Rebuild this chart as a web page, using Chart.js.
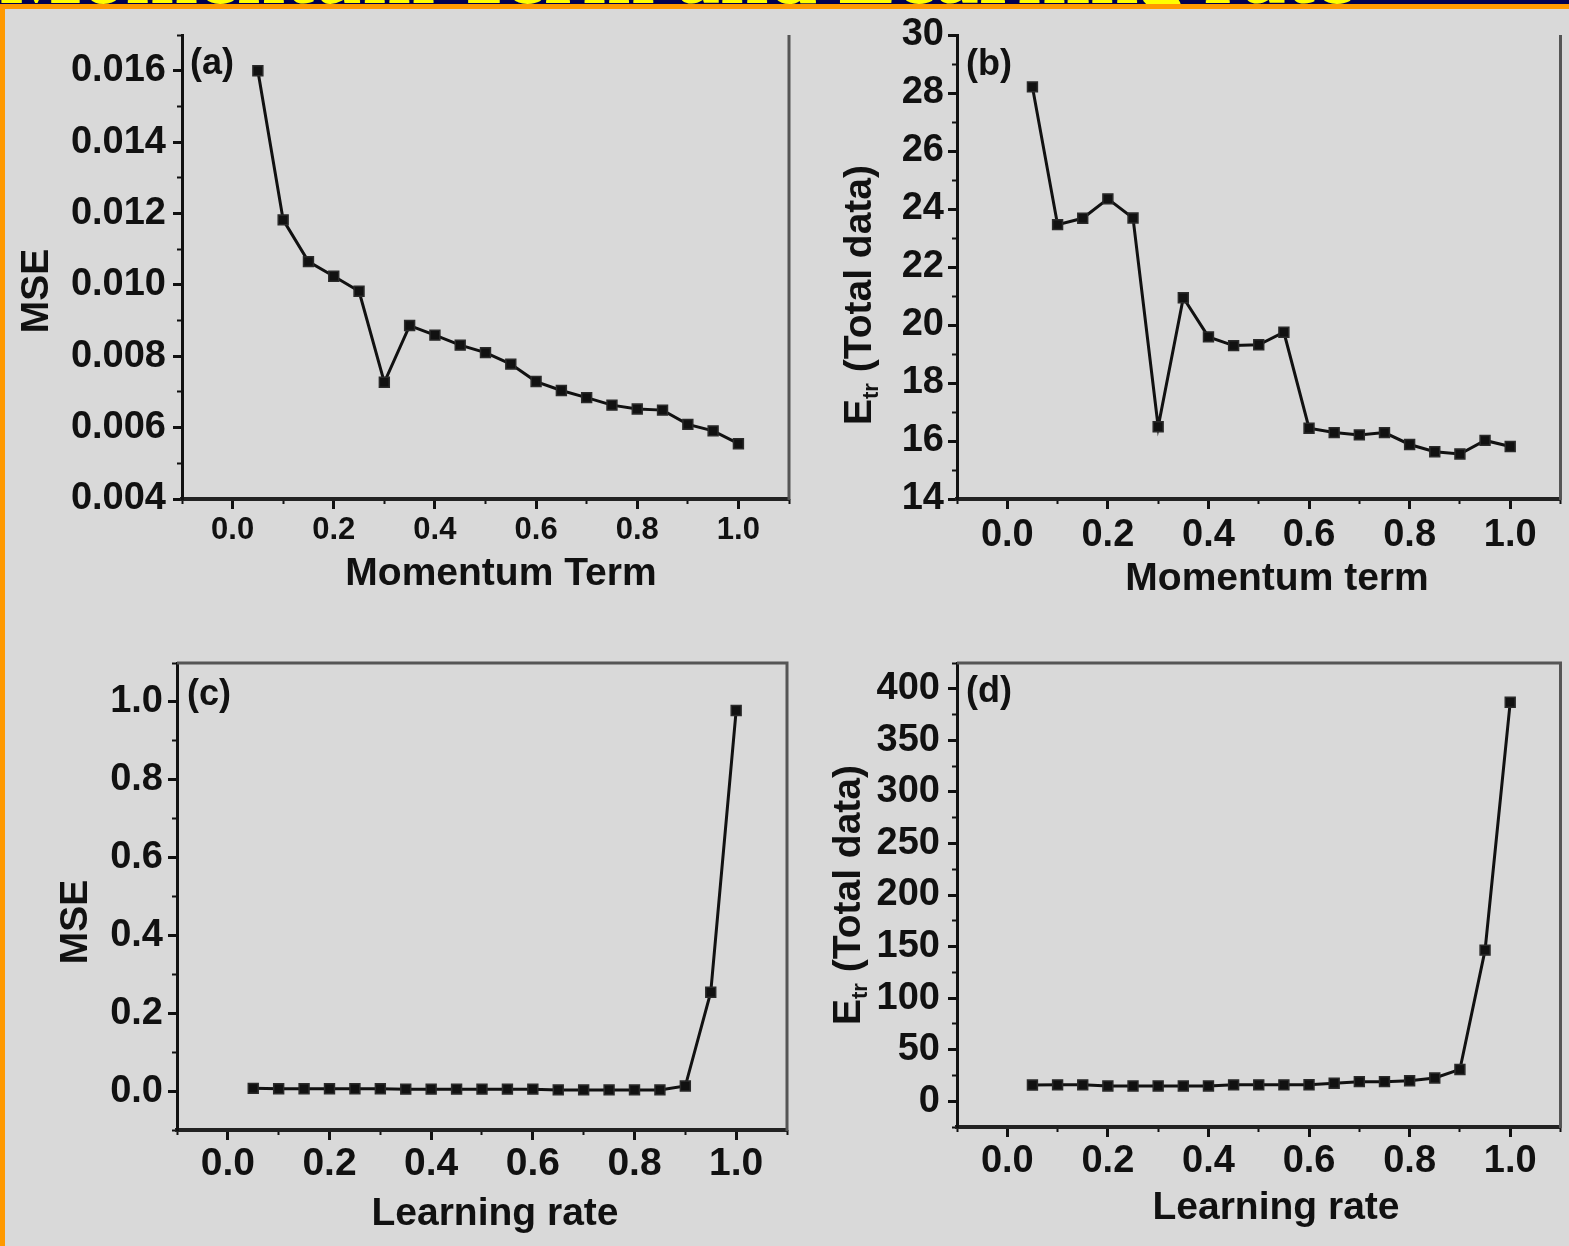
<!DOCTYPE html>
<html><head><meta charset="utf-8">
<script src="https://cdn.jsdelivr.net/npm/chart.js@4.4.1/dist/chart.umd.min.js"></script>
<style>
html,body{margin:0;padding:0;background:#d9d9d9;}
body{width:1569px;height:1246px;position:relative;overflow:hidden;}
#band{position:absolute;left:0;top:0;width:1569px;height:4px;background:#000050;overflow:hidden;}
#band span{position:absolute;left:0;top:-70px;font:bold 87px/87px 'Liberation Serif','Times New Roman',serif;color:#ffff00;white-space:nowrap;}
#otop{position:absolute;left:0;top:4px;width:1569px;height:5px;background:#ff9900;}
#oleft{position:absolute;left:0;top:4px;width:5px;height:1242px;background:#ff9900;}
canvas{position:absolute;left:0;top:0;width:1569px;height:1246px;}
</style></head><body>
<div id="band"><span>Momentum Term and Learning rate</span></div>
<div id="otop"></div><div id="oleft"></div>
<canvas id="ca" width="1569" height="1246"></canvas>
<canvas id="cb" width="1569" height="1246"></canvas>
<canvas id="cc" width="1569" height="1246"></canvas>
<canvas id="cd" width="1569" height="1246"></canvas>
<script>
// ---------- data ----------
const momentumTerm = [0.05,0.10,0.15,0.20,0.25,0.30,0.35,0.40,0.45,0.50,0.55,0.60,0.65,0.70,0.75,0.80,0.85,0.90,0.95,1.00];
const mseMomentum = [0.0160,0.01182,0.01065,0.01024,0.00982,0.00727,0.00886,0.00859,0.00831,0.00810,0.00778,0.00729,0.00704,0.00684,0.00663,0.00652,0.00649,0.00609,0.00591,0.00555];
const etrMomentum = [28.21,23.46,23.68,24.35,23.69,16.49,20.94,19.59,19.29,19.32,19.75,16.44,16.29,16.21,16.29,15.88,15.63,15.55,16.02,15.81];
const learningRate = [0.05,0.10,0.15,0.20,0.25,0.30,0.35,0.40,0.45,0.50,0.55,0.60,0.65,0.70,0.75,0.80,0.85,0.90,0.95,1.00];
const mseLearning = [0.007,0.006,0.006,0.006,0.006,0.006,0.005,0.005,0.005,0.005,0.005,0.005,0.003,0.003,0.003,0.003,0.003,0.013,0.254,0.978];
const etrLearning = [15.7,15.9,15.9,14.8,14.8,14.8,14.8,14.8,15.9,15.9,15.9,16.0,17.5,19.0,19.0,19.8,22.5,30.8,146.5,386.9];

// ---------- tick labels ----------
const xMajorTicks = [0,0.2,0.4,0.6,0.8,1.0];
const xMinorTicks = [-0.1,0,0.1,0.2,0.3,0.4,0.5,0.6,0.7,0.8,0.9,1.0,1.1];
const mseMomMajor = [0.004,0.006,0.008,0.010,0.012,0.014,0.016];
const mseMomMinor = [0.004,0.005,0.006,0.007,0.008,0.009,0.010,0.011,0.012,0.013,0.014,0.015,0.016,0.017];
const etrMomMajor = [14,16,18,20,22,24,26,28,30];
const etrMomMinor = [14,15,16,17,18,19,20,21,22,23,24,25,26,27,28,29,30];
const mseLrMajor = [0,0.2,0.4,0.6,0.8,1.0];
const mseLrMinor = [-0.1,0,0.1,0.2,0.3,0.4,0.5,0.6,0.7,0.8,0.9,1.0,1.1];
const etrLrMajor = [0,50,100,150,200,250,300,350,400];
const etrLrMinor = [-25,0,25,50,75,100,125,150,175,200,225,250,275,300,325,350,375,400,425];

const FONT = "'Liberation Sans', Arial, Helvetica, sans-serif";
const PAGE_W = 1569, PAGE_H = 1246, YW = 140, XH = 120;

function framePlugin(top) {
  return { id: 'frame', afterDatasetsDraw(chart) {
    const {ctx, chartArea: a} = chart;
    ctx.save(); ctx.strokeStyle = '#555'; ctx.lineWidth = 3;
    ctx.beginPath(); ctx.moveTo(a.right, a.bottom + 1); ctx.lineTo(a.right, a.top);
    if (top) ctx.lineTo(a.left, a.top);
    ctx.stroke(); ctx.restore();
  }};
}
function textPlugin(items) {
  return { id: 'texts', afterDraw(chart) {
    const ctx = chart.ctx;
    items.forEach(it => {
      ctx.save(); ctx.fillStyle = '#111'; ctx.textBaseline = 'alphabetic'; ctx.textAlign = 'left';
      const widths = it.parts.map(pt => { ctx.font = 'bold ' + pt.size + 'px ' + FONT; return ctx.measureText(pt.text).width; });
      const total = widths.reduce((s, w) => s + w, 0);
      ctx.translate(it.x, it.y);
      if (it.rotate) ctx.rotate(-Math.PI / 2);
      let cx = it.align === 'left' ? 0 : -total / 2;
      it.parts.forEach((pt, i) => { ctx.font = 'bold ' + pt.size + 'px ' + FONT; ctx.fillText(pt.text, cx, pt.dy || 0); cx += widths[i]; });
      ctx.restore();
    });
  }};
}

function panel(id, p) {
  const setTicks = arr => s => { s.ticks = arr.map(v => ({value: v})); };
  return new Chart(document.getElementById(id), {
    type: 'scatter',
    data: { datasets: [{
      data: p.xs.map((x, i) => ({x: x, y: p.ys[i]})),
      showLine: true, borderColor: '#111', borderWidth: 3, tension: 0,
      pointStyle: 'rect', pointRadius: 7, pointBackgroundColor: '#111',
      pointBorderColor: '#2a2a2a', pointBorderWidth: 1.5, clip: false,
      xAxisID: 'x', yAxisID: 'y'
    }]},
    options: {
      responsive: false, animation: false, devicePixelRatio: 1,
      layout: { padding: { left: p.L - YW, right: PAGE_W - p.R, top: p.T, bottom: PAGE_H - p.B - XH } },
      plugins: { legend: {display: false}, tooltip: {enabled: false} },
      scales: {
        x: { type: 'linear', position: 'bottom', weight: 1, min: p.xMin, max: p.xMax,
          afterBuildTicks: setTicks(p.xMajor), afterFit: s => { s.height = XH; },
          ticks: { autoSkip: false, maxRotation: 0, minRotation: 0, padding: p.xPad, color: '#111',
            font: {family: FONT, size: p.xSize, weight: 'bold', lineHeight: 1}, callback: v => v.toFixed(1) },
          grid: { drawOnChartArea: false, drawTicks: true, tickLength: 10, tickWidth: 3, tickColor: '#111' },
          border: { display: true, color: '#222', width: 4 } },
        xm: { type: 'linear', position: 'bottom', weight: 0, min: p.xMin, max: p.xMax,
          afterBuildTicks: setTicks(p.xMinor), afterFit: s => { s.height = 0; },
          ticks: { display: false },
          grid: { drawOnChartArea: false, drawTicks: true, tickLength: 5, tickWidth: 2, tickColor: '#111' },
          border: { display: false } },
        y: { type: 'linear', position: 'left', weight: 1, min: p.yMin, max: p.yMax,
          afterBuildTicks: setTicks(p.yMajor), afterFit: s => { s.width = YW; },
          ticks: { autoSkip: false, padding: p.yPad, color: '#111',
            font: {family: FONT, size: p.ySize, weight: 'bold', lineHeight: 1}, callback: v => v.toFixed(p.yDec) },
          grid: { drawOnChartArea: false, drawTicks: true, tickLength: 9, tickWidth: 3, tickColor: '#111' },
          border: { display: true, color: '#111', width: 3 } },
        ym: { type: 'linear', position: 'left', weight: 0, min: p.yMin, max: p.yMax,
          afterBuildTicks: setTicks(p.yMinor), afterFit: s => { s.width = 0; },
          ticks: { display: false },
          grid: { drawOnChartArea: false, drawTicks: true, tickLength: 5, tickWidth: 2, tickColor: '#111' },
          border: { display: false } }
      }
    },
    plugins: [framePlugin(p.frameTop), textPlugin(p.texts)]
  });
}

const TT = 39, PL = 36;
panel('ca', { xs: momentumTerm, ys: mseMomentum, L: 182, R: 789, T: 35, B: 499,
  xMin: -0.1, xMax: 1.1, yMin: 0.004, yMax: 0.017, xMajor: xMajorTicks, xMinor: xMinorTicks,
  yMajor: mseMomMajor, yMinor: mseMomMinor, yDec: 3, xSize: 31, ySize: 38, xPad: 6, yPad: 7, frameTop: false,
  texts: [
    {parts: [{text: '(a)', size: PL}], x: 190, y: 74, align: 'left'},
    {parts: [{text: 'Momentum Term', size: TT}], x: 501, y: 585},
    {parts: [{text: 'MSE', size: TT}], x: 48, y: 291, rotate: true}
  ]});
panel('cb', { xs: momentumTerm, ys: etrMomentum, L: 957, R: 1564, T: 35, B: 499,
  xMin: -0.1, xMax: 1.1, yMin: 14, yMax: 30, xMajor: xMajorTicks, xMinor: xMinorTicks,
  yMajor: etrMomMajor, yMinor: etrMomMinor, yDec: 0, xSize: 38, ySize: 38, xPad: 8, yPad: 4, frameTop: false,
  texts: [
    {parts: [{text: '(b)', size: PL}], x: 966, y: 75, align: 'left'},
    {parts: [{text: 'Momentum term', size: TT}], x: 1277, y: 590},
    {parts: [{text: 'E', size: TT}, {text: 'tr', size: 22, dy: 7}, {text: ' (Total data)', size: TT}], x: 871, y: 295, rotate: true}
  ]});
panel('cc', { xs: learningRate, ys: mseLearning, L: 177, R: 787, T: 663, B: 1130,
  xMin: -0.1, xMax: 1.1, yMin: -0.1, yMax: 1.1, xMajor: xMajorTicks, xMinor: xMinorTicks,
  yMajor: mseLrMajor, yMinor: mseLrMinor, yDec: 1, xSize: 39, ySize: 38, xPad: 5, yPad: 5, frameTop: true,
  texts: [
    {parts: [{text: '(c)', size: PL}], x: 187, y: 705, align: 'left'},
    {parts: [{text: 'Learning rate', size: TT}], x: 495, y: 1225},
    {parts: [{text: 'MSE', size: TT}], x: 87, y: 922, rotate: true}
  ]});
panel('cd', { xs: learningRate, ys: etrLearning, L: 957, R: 1564, T: 663, B: 1127,
  xMin: -0.1, xMax: 1.1, yMin: -25, yMax: 425, xMajor: xMajorTicks, xMinor: xMinorTicks,
  yMajor: etrLrMajor, yMinor: etrLrMinor, yDec: 0, xSize: 38, ySize: 38, xPad: 6, yPad: 8, frameTop: true,
  texts: [
    {parts: [{text: '(d)', size: PL}], x: 966, y: 702, align: 'left'},
    {parts: [{text: 'Learning rate', size: TT}], x: 1276, y: 1219},
    {parts: [{text: 'E', size: TT}, {text: 'tr', size: 22, dy: 7}, {text: ' (Total data)', size: TT}], x: 860, y: 895, rotate: true}
  ]});
</script>
</body></html>
